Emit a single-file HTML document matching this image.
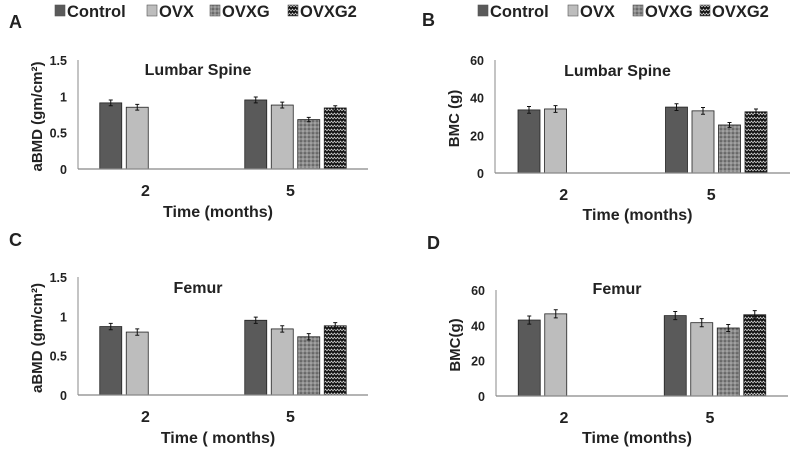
<!DOCTYPE html>
<html><head><meta charset="utf-8"><style>
body{margin:0;background:#fff;width:793px;height:450px;overflow:hidden}
svg text{font-family:"Liberation Sans",Arial,sans-serif;font-weight:bold;fill:#222}
</style></head><body>
<svg id="fig" width="793" height="450" viewBox="0 0 793 450" xmlns="http://www.w3.org/2000/svg">
<defs>
<pattern id="dots" width="4" height="4" patternUnits="userSpaceOnUse"><rect width="4" height="4" fill="#8a8a8a"/><circle cx="1" cy="1" r="0.8" fill="#444"/><circle cx="3" cy="3" r="0.8" fill="#bbb"/></pattern>
<pattern id="zig" width="6" height="4" patternUnits="userSpaceOnUse"><rect width="6" height="4" fill="#111"/><path d="M0 3 L1.5 1 L3 3 L4.5 1 L6 3" stroke="#ccc" stroke-width="0.8" fill="none"/></pattern>
</defs>
</svg>
<script>
const categories=["2","5"];
const series=["Control","OVX","OVXG","OVXG2"];
const fills=["#5a5a5a","#bdbdbd","url(#dots)","url(#zig)"];
const valuesA=[[0.91,0.85,null,null],[0.95,0.88,0.68,0.84]];
const errorsA=[[0.04,0.04,0,0],[0.04,0.04,0.03,0.03]];
const valuesB=[[33.5,34,null,null],[35,33,25.5,32.5]];
const errorsB=[[1.8,1.8,0,0],[1.8,1.8,1.3,1.5]];
const valuesC=[[0.87,0.8,null,null],[0.95,0.84,0.74,0.88]];
const errorsC=[[0.04,0.04,0,0],[0.04,0.04,0.04,0.04]];
const valuesD=[[43,46.5,null,null],[45.5,41.5,38.5,46]];
const errorsD=[[2.3,2.3,0,0],[2.3,2.3,2,2.3]];
const ticksAC=[0,0.5,1,1.5];
const ticksBD=[0,20,40,60];
const NS="http://www.w3.org/2000/svg";
const svg=document.getElementById('fig');
function mk(tag,attrs,parent){const e=document.createElementNS(NS,tag);for(const k in attrs)e.setAttribute(k,attrs[k]);(parent||svg).appendChild(e);return e;}
function txt(s,attrs,parent){const e=mk('text',attrs,parent);e.textContent=s;return e;}

const panels=[
 {id:'a',letter:'A',lx:9,ly:28,x0:78,x1:368,y0:169,yTop:60,max:1.5,ticks:ticksAC,vals:valuesA,errs:errorsA,title:'Lumbar Spine',ty:75,ylab:'aBMD (gm/cm²)',xlab:'Time (months)',xly:217},
 {id:'b',letter:'B',lx:422,ly:26,x0:495,x1:790,y0:173,yTop:60,max:60,ticks:ticksBD,vals:valuesB,errs:errorsB,title:'Lumbar Spine',ty:76,ylab:'BMC (g)',xlab:'Time (months)',xly:220},
 {id:'c',letter:'C',lx:9,ly:246,x0:78,x1:368,y0:395,yTop:277,max:1.5,ticks:ticksAC,vals:valuesC,errs:errorsC,title:'Femur',ty:293,ylab:'aBMD (gm/cm²)',xlab:'Time ( months)',xly:443},
 {id:'d',letter:'D',lx:427,ly:249,x0:496,x1:788,y0:396,yTop:290,max:60,ticks:ticksBD,vals:valuesD,errs:errorsD,title:'Femur',ty:294,ylab:'BMC(g)',xlab:'Time (months)',xly:443}
];
panels.forEach(p=>{
 const g=mk('g',{});
 
 
 const y=v=>p.y0-(v/p.max)*(p.y0-p.yTop);
 const cw=(p.x1-p.x0)/categories.length;
 const bw=22,gap=4.5;
 const L=txt(p.letter,{x:p.lx,y:p.ly,'font-size':18,fill:'#000'},g);
 
 const ya=mk('line',{x1:p.x0,x2:p.x0,y1:p.yTop,y2:p.y0,stroke:'#888','stroke-width':1},g);
 
 p.ticks.forEach(t=>{const e=txt(String(t),{x:p.x0-11,y:y(t)+5,'font-size':12.5,'text-anchor':'end'},g);
  });
 const T=txt(p.title,{x:(p.x0+p.x1)/2-25,y:p.ty,'font-size':16,'text-anchor':'middle'},g);
 
 const yl=txt(p.ylab,{x:0,y:0,'font-size':15,'text-anchor':'middle',transform:`translate(${p.x0-36},${(p.y0+p.yTop)/2+2}) rotate(-90)`},g);
 
 categories.forEach((c,ci)=>{
  const cx=p.x0+cw*(ci+0.5);
  const start=cx-(4*bw+3*gap)/2;
  series.forEach((s,si)=>{
   const v=p.vals[ci][si]; if(v==null) return;
   const bx=start+si*(bw+gap);
   const r=mk('rect',{x:bx,y:y(v),width:bw,height:p.y0-y(v),fill:fills[si],stroke:'#222','stroke-width':0.8},g);
   
   const e=p.errs[ci][si];
   const eb=mk('path',{d:`M${bx+bw/2} ${y(v+e)}V${y(v-e)}M${bx+bw/2-2} ${y(v+e)}h4M${bx+bw/2-2} ${y(v-e)}h4`,stroke:'#111','stroke-width':1,fill:'none'},g);
   
  });
  const xl=txt(c,{x:cx-5,y:p.y0+27,'font-size':16,'text-anchor':'middle'},g);
  
 });
 const xa=mk('line',{x1:p.x0,x2:p.x1,y1:p.y0,y2:p.y0,stroke:'#888','stroke-width':1.2},g);
 
 const xt=txt(p.xlab,{x:(p.x0+p.x1)/2-5,y:p.xly,'font-size':16,'text-anchor':'middle'},g);
 
});
const legendSq=[[55,147,210,288],[478,568,633,700]];
legendSq.forEach((xs,li)=>{
 const g=mk('g',{});
 
 
 series.forEach((s,si)=>{
  const r=mk('rect',{x:xs[si],y:5,width:10,height:11,fill:fills[si],stroke:'#555','stroke-width':0.6},g);
  
  const t=txt(s,{x:xs[si]+12,y:17,'font-size':16.5},g);
  
 });
});
</script>
</body></html>
